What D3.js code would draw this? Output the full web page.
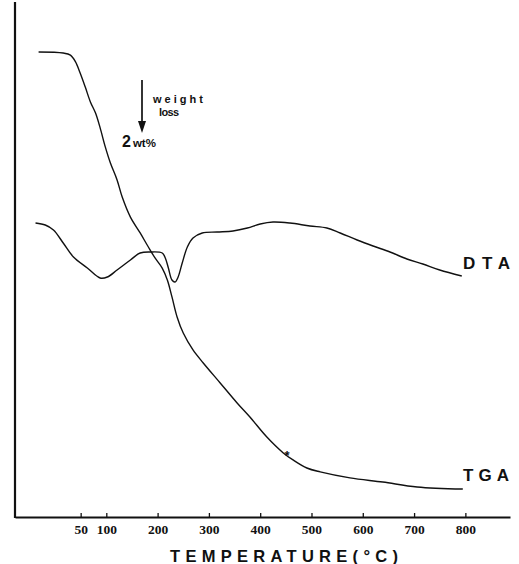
<!DOCTYPE html>
<html>
<head>
<meta charset="utf-8">
<script src="https://cdn.jsdelivr.net/npm/d3@7"></script>
<style>
  body { margin: 0; background: #fff; }
  svg { display: block; }
</style>
</head>
<body>
<div id="chart"></div>
<script>
let width = 519,
    height = 564;

// temperature (°C)
let tgaTemp = [-32, 16, 30, 40, 49, 59, 69, 79, 88, 98, 108, 121, 131, 147, 166, 182, 195, 209, 219, 228,
  238, 250, 269, 289, 322, 355, 380, 413, 445, 464, 491, 517, 575, 639, 706, 795];
// remaining weight (wt%), top plateau taken as 100
let tgaWeight = [100.0, 99.96, 99.88, 99.62, 99.19, 98.65, 98.08, 97.65, 97.08, 96.35, 95.73, 95.08, 94.42,
  93.65, 93.04, 92.5, 92.08, 91.69, 91.23, 90.58, 89.81, 89.19, 88.54, 88.04, 87.27, 86.5, 85.96, 85.19,
  84.58, 84.31, 84.0, 83.85, 83.62, 83.46, 83.27, 83.19];

let dtaTemp = [-38, -19, -3, 16, 36, 63, 88, 102, 121, 147, 166, 186, 209, 215, 221, 228, 234, 240, 248,
  258, 269, 287, 316, 347, 375, 400, 425, 458, 497, 530, 556, 589, 620, 653, 686, 717, 750, 793];
// DTA signal, arbitrary units
let dtaSignal = [7.7, 7.5, 7.0, 5.7, 4.3, 3.2, 2.2, 2.3, 3.0, 4.0, 4.7, 4.8, 4.7, 4.2, 3.2, 2.0, 1.8, 2.3,
  3.7, 5.3, 6.2, 6.7, 6.8, 6.9, 7.2, 7.6, 7.8, 7.7, 7.4, 7.2, 6.7, 6.0, 5.4, 4.8, 4.1, 3.6, 3.0, 2.4];

let tickTemps = [50, 100, 200, 300, 400, 500, 600, 700, 800];

let svg = d3.select("#chart").append("svg")
    .attr("width", width)
    .attr("height", height);

let x = d3.scaleLinear()
    .domain([-78, 887])
    .range([15, 510]);

// 2 wt% = 52 px on the original trace
let yTga = d3.scaleLinear()
    .domain([100, 80])
    .range([52, 572]);

let yDta = d3.scaleLinear()
    .domain([0, 30])
    .range([300, 0]);

let axisY = 517;
let sans = "'Liberation Sans', Arial, sans-serif";

// axes
svg.append("line")
  .attr("x1", x(-78)).attr("x2", x(-78))
  .attr("y1", 2).attr("y2", axisY + 1)
  .attr("stroke", "#111")
  .attr("stroke-width", 2.2);

let xAxis = svg.append("g")
  .attr("transform", "translate(0," + axisY + ")")
  .call(d3.axisBottom(x)
    .tickValues(tickTemps)
    .tickSizeInner(-4)
    .tickSizeOuter(0)
    .tickPadding(7));

xAxis.select(".domain")
  .attr("stroke", "#111")
  .attr("stroke-width", 2.2);

xAxis.selectAll(".tick line")
  .attr("stroke", "#111")
  .attr("stroke-width", 1.3);

xAxis.selectAll(".tick text")
  .style("font-family", "'Liberation Serif', serif")
  .style("font-weight", "bold")
  .style("font-size", "13.5px")
  .attr("fill", "#111");

svg.append("text")
  .attr("x", 284)
  .attr("y", 562)
  .attr("text-anchor", "middle")
  .attr("textLength", 228)
  .attr("lengthAdjust", "spacing")
  .style("font-family", sans)
  .style("font-weight", "bold")
  .style("font-size", "16.5px")
  .attr("fill", "#111")
  .text("TEMPERATURE(°C)");

// curves
let tgaLine = d3.line()
  .x((d, i) => x(tgaTemp[i]))
  .y(d => yTga(d))
  .curve(d3.curveCatmullRom);

let dtaLine = d3.line()
  .x((d, i) => x(dtaTemp[i]))
  .y(d => yDta(d))
  .curve(d3.curveCatmullRom);

svg.append("path")
  .datum(tgaWeight)
  .attr("d", tgaLine)
  .attr("fill", "none")
  .attr("stroke", "#111")
  .attr("stroke-width", 1.4);

svg.append("path")
  .datum(dtaSignal)
  .attr("d", dtaLine)
  .attr("fill", "none")
  .attr("stroke", "#111")
  .attr("stroke-width", 1.4);

// curve labels
let labelStyle = sel => sel
  .style("font-family", sans)
  .style("font-weight", "bold")
  .style("font-size", "17px")
  .attr("fill", "#111")
  .attr("lengthAdjust", "spacing");

svg.append("text")
  .attr("x", 463).attr("y", 269)
  .attr("textLength", 47)
  .call(labelStyle)
  .text("DTA");

svg.append("text")
  .attr("x", 463).attr("y", 481)
  .attr("textLength", 46)
  .call(labelStyle)
  .text("TGA");

// 2 wt% weight loss marker
let arrowX = 142;
svg.append("line")
  .attr("x1", arrowX).attr("x2", arrowX)
  .attr("y1", yTga(100) + 28).attr("y2", yTga(98) + 20)
  .attr("stroke", "#111")
  .attr("stroke-width", 1.7);

svg.append("path")
  .attr("d", d3.line()([[arrowX - 4, yTga(98) + 17], [arrowX + 4, yTga(98) + 17], [arrowX, yTga(98) + 29]]))
  .attr("fill", "#111");

svg.append("text")
  .attr("x", 153).attr("y", 103)
  .attr("textLength", 50)
  .attr("lengthAdjust", "spacing")
  .style("font-family", sans)
  .style("font-weight", "bold")
  .style("font-size", "11px")
  .attr("fill", "#111")
  .text("weight");

svg.append("text")
  .attr("x", 159).attr("y", 116)
  .attr("textLength", 20)
  .attr("lengthAdjust", "spacing")
  .style("font-family", sans)
  .style("font-weight", "bold")
  .style("font-size", "11px")
  .attr("fill", "#111")
  .text("loss");

let wt = svg.append("text")
  .attr("x", 122).attr("y", 147)
  .style("font-family", sans)
  .style("font-weight", "bold")
  .attr("fill", "#111");
wt.append("tspan").style("font-size", "16px").text("2");
wt.append("tspan").attr("dx", 2).style("font-size", "11.5px").text("wt%");

// small mark on the TGA trace
svg.append("text")
  .attr("x", 287).attr("y", 460)
  .attr("text-anchor", "middle")
  .style("font-family", sans)
  .style("font-weight", "bold")
  .style("font-size", "13px")
  .attr("fill", "#111")
  .text("*");
</script>
</body>
</html>
